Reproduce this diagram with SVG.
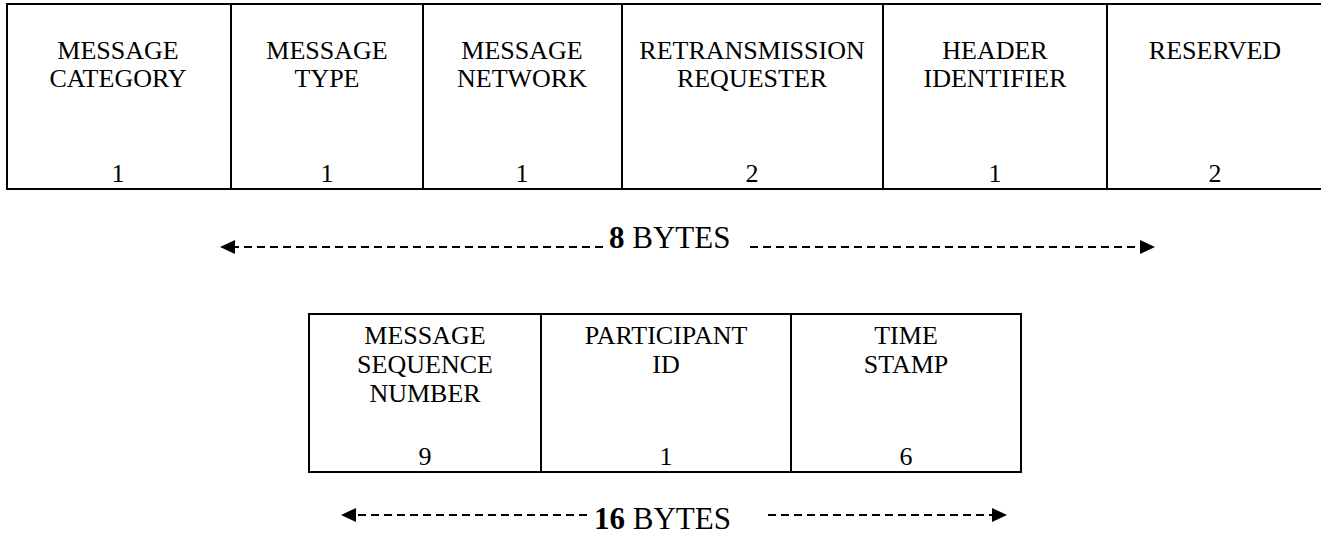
<svg xmlns="http://www.w3.org/2000/svg" width="1321" height="535" viewBox="0 0 1321 535">
  <style>
    .cell { fill: none; stroke: #000; stroke-width: 2; }
    .lbl { font-family: "Liberation Serif", "Times New Roman", serif; font-size: 26px; fill: #000; text-anchor: middle; }
    .dim { font-family: "Liberation Serif", "Times New Roman", serif; font-size: 31px; fill: #000; }
    .dash { stroke: #000; stroke-width: 2; stroke-dasharray: 8 5; fill: none; }
  </style>
  <defs>
    <marker id="head" markerUnits="userSpaceOnUse" viewBox="0 0 15 14" refX="0" refY="7" markerWidth="15" markerHeight="14" orient="auto">
      <path d="M0,0 L15,7 L0,14 z" fill="#000"/>
    </marker>
  </defs>

  <rect width="1321" height="535" fill="#fff"/>

  <!-- 8-byte header row -->
  <g id="header-frame">
    <path class="cell" d="M1322,4 H7 V189 H1322"/>
  </g>
  <g id="msg-category">
    <line class="cell" x1="231" y1="4" x2="231" y2="189"/>
    <text class="lbl" x="118" y="59">MESSAGE</text>
    <text class="lbl" x="118" y="87">CATEGORY</text>
    <text class="lbl" x="118" y="182">1</text>
  </g>
  <g id="msg-type">
    <line class="cell" x1="423" y1="4" x2="423" y2="189"/>
    <text class="lbl" x="327" y="59">MESSAGE</text>
    <text class="lbl" x="327" y="87">TYPE</text>
    <text class="lbl" x="327" y="182">1</text>
  </g>
  <g id="msg-network">
    <line class="cell" x1="622" y1="4" x2="622" y2="189"/>
    <text class="lbl" x="522" y="59">MESSAGE</text>
    <text class="lbl" x="522" y="87">NETWORK</text>
    <text class="lbl" x="522" y="182">1</text>
  </g>
  <g id="retrans-requester">
    <line class="cell" x1="883" y1="4" x2="883" y2="189"/>
    <text class="lbl" x="752" y="59">RETRANSMISSION</text>
    <text class="lbl" x="752" y="87">REQUESTER</text>
    <text class="lbl" x="752" y="182">2</text>
  </g>
  <g id="header-identifier">
    <line class="cell" x1="1107" y1="4" x2="1107" y2="189"/>
    <text class="lbl" x="995" y="59">HEADER</text>
    <text class="lbl" x="995" y="87">IDENTIFIER</text>
    <text class="lbl" x="995" y="182">1</text>
  </g>
  <g id="reserved">
    <text class="lbl" x="1215" y="59">RESERVED</text>
    <text class="lbl" x="1215" y="182">2</text>
  </g>

  <!-- 16-byte row -->
  <g id="seq-frame">
    <rect class="cell" x="309" y="314" width="712" height="158"/>
  </g>
  <g id="msg-sequence">
    <line class="cell" x1="541" y1="314" x2="541" y2="472"/>
    <text class="lbl" x="425" y="344">MESSAGE</text>
    <text class="lbl" x="425" y="373">SEQUENCE</text>
    <text class="lbl" x="425" y="402">NUMBER</text>
    <text class="lbl" x="425" y="465">9</text>
  </g>
  <g id="participant-id">
    <line class="cell" x1="791" y1="314" x2="791" y2="472"/>
    <text class="lbl" x="666" y="344">PARTICIPANT</text>
    <text class="lbl" x="666" y="373">ID</text>
    <text class="lbl" x="666" y="465">1</text>
  </g>
  <g id="time-stamp">
    <text class="lbl" x="906" y="344">TIME</text>
    <text class="lbl" x="906" y="373">STAMP</text>
    <text class="lbl" x="906" y="465">6</text>
  </g>

  <!-- span connectors -->
  <g id="connectors">
    <line class="dash" x1="603" y1="247" x2="235" y2="247" marker-end="url(#head)"/>
    <line class="dash" x1="750" y1="247" x2="1140" y2="247" marker-end="url(#head)"/>
    <line class="dash" x1="587" y1="515" x2="356" y2="515" marker-end="url(#head)"/>
    <line class="dash" x1="768" y1="515" x2="992" y2="515" marker-end="url(#head)"/>
  </g>

  <g id="span-labels">
    <text class="dim" x="609" y="248"><tspan font-weight="bold">8</tspan> BYTES</text>
    <text class="dim" x="594" y="529"><tspan font-weight="bold">16</tspan> BYTES</text>
  </g>
</svg>
